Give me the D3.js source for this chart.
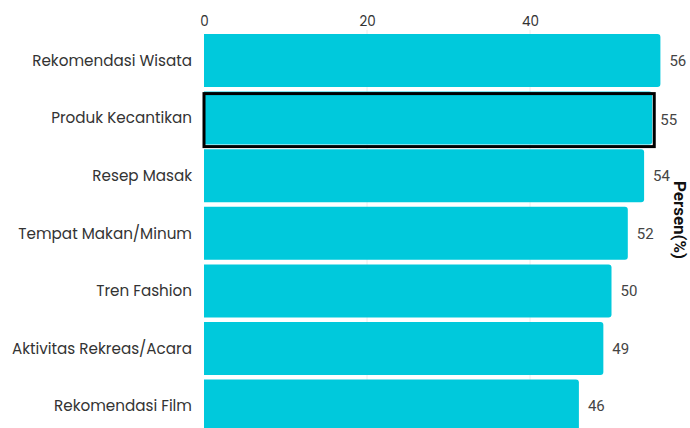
<!DOCTYPE html>
<html><head><meta charset="utf-8">
<script src="https://cdn.jsdelivr.net/npm/d3@7"></script>
<style>body{margin:0;background:#fff}svg{display:block}</style>
</head><body>
<script>
const categories = ["Rekomendasi Wisata","Produk Kecantikan","Resep Masak","Tempat Makan/Minum","Tren Fashion","Aktivitas Rekreas/Acara","Rekomendasi Film"];
const values = [56,55,54,52,50,49,46];
const highlighted = ["Produk Kecantikan"];
const ticks = [0,20,40];
const axisTitle = "Persen(%)";

const W = 690, H = 428;
const svg = d3.select("body").append("svg").attr("width", W).attr("height", H);
const x = d3.scaleLinear().domain([0, 20]).range([204, 367]);
const step = 57.6;
const y = d3.scaleBand().domain(categories).paddingInner(0.08).paddingOuter(0.04)
  .range([34 - 0.04*step, 34 - 0.04*step + step*7]);

const font = "Poppins, 'Noto Sans', 'Open Sans', sans-serif";

// grid
svg.append("g").selectAll("line").data(ticks.slice(1)).join("line")
  .attr("x1", d => x(d)).attr("x2", d => x(d)).attr("y1", 30).attr("y2", H)
  .attr("stroke", "#ececec").attr("stroke-width", 1);

// top axis
const ax = svg.append("g").attr("transform", "translate(0,32)")
  .call(d3.axisTop(x).tickValues(ticks).tickSize(0).tickPadding(6));
ax.select(".domain").remove();
ax.selectAll("text").attr("font-family", font).attr("font-size", 13.5).attr("fill", "#333");

// bars
const r = 3;
function barPath(x0, x1, y0, h) {
  return `M${x0},${y0}H${x1-r}Q${x1},${y0} ${x1},${y0+r}V${y0+h-r}Q${x1},${y0+h} ${x1-r},${y0+h}H${x0}Z`;
}
const data = categories.map((c, i) => ({c, v: values[i]}));
svg.append("g").selectAll("path").data(data).join("path")
  .attr("d", d => barPath(x(0), x(d.v), y(d.c), y.bandwidth()))
  .attr("fill", "#00c9dc");

svg.append("g").selectAll("rect").data(data.filter(d => highlighted.includes(d.c))).join("rect")
  .attr("x", x(0)).attr("y", d => y(d.c) + 2).attr("width", d => x(d.v) - x(0) + 2)
  .attr("height", y.bandwidth())
  .attr("fill", "none").attr("stroke", "#000").attr("stroke-width", 3);

// category labels
svg.append("g").selectAll("text").data(data).join("text")
  .attr("x", 192).attr("y", d => y(d.c) + y.bandwidth()/2).attr("dy", "0.35em")
  .attr("text-anchor", "end").attr("font-family", font).attr("font-size", 15.2).attr("fill", "#333")
  .text(d => d.c);

// value labels
svg.append("g").selectAll("text").data(data).join("text")
  .attr("x", d => x(d.v) + (highlighted.includes(d.c) ? 8 : 9))
  .attr("y", d => y(d.c) + y.bandwidth()/2 + (highlighted.includes(d.c) ? 2 : 0)).attr("dy", "0.35em")
  .attr("font-family", "Roboto, 'Liberation Sans', Arial, sans-serif").attr("font-size", 15).attr("fill", "#444")
  .text(d => d.v);

// axis title
svg.append("text").attr("transform", "translate(674,220) rotate(90)")
  .attr("text-anchor", "middle").attr("font-family", "Roboto, 'Liberation Sans', Arial, sans-serif")
  .attr("font-weight", "bold").attr("font-size", 17).attr("fill", "#111")
  .text(axisTitle);
</script>
</body></html>
